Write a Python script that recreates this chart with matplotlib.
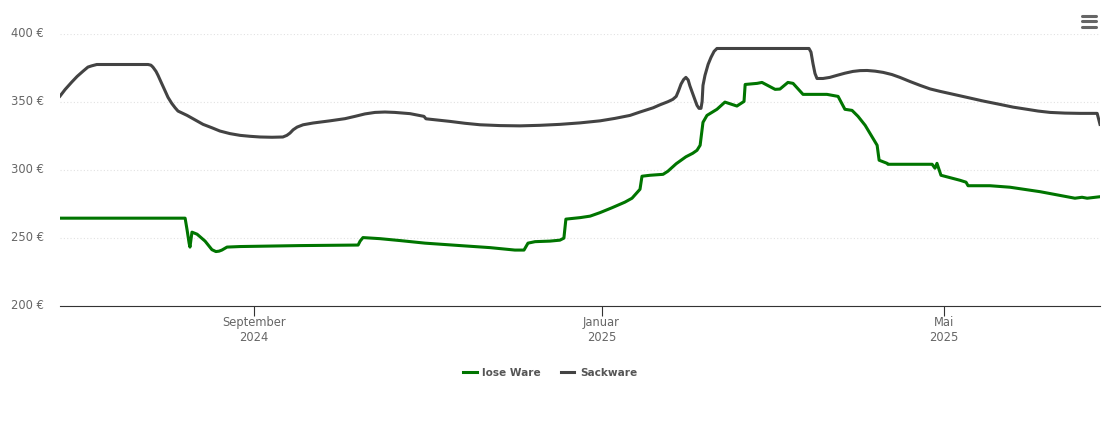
import datetime
import numpy as np
import matplotlib
matplotlib.use("Agg")
import matplotlib.pyplot as plt
import matplotlib.dates as mdates
from matplotlib.lines import Line2D
from matplotlib.transforms import ScaledTranslation

# days since the left edge of the chart, and price in euro
start = datetime.date(2024, 6, 25)

lose_days = [0, 43.9, 44.6, 45.3, 45.6, 46.3, 48.1, 50.9, 53.3, 54.7, 55.8, 56.8, 58.6, 63.2, 84.2, 104.6, 105.3, 106.3,
             112.3, 119.3, 128.1, 140.4, 150.9, 159.6, 162.8, 164.2, 166.7, 171.9, 175.4, 176.8, 177.5, 182.5,
             186, 189.5, 193.7, 198.2, 200.7, 203.5, 204.2, 207, 211.6, 213.3, 216.2, 219.6, 222, 223.5, 224.6, 225.6,
             227, 230.5, 233.3, 237.5, 240, 240.4, 244.6, 246.3, 250.9, 252.6, 255.4, 257.2, 260.7, 269.1, 273,
             275.4, 277.9, 280, 282.5, 286.7, 287.4, 290.2, 290.5, 306, 307, 307.7, 309.1, 315.8, 317.9, 318.6,
             326.3, 333.3, 343.9, 356.1, 358.6, 360.4, 364.9]
lose_ware = [264.7, 264.7, 255.9, 246.3, 243.4, 254.4, 252.9, 247.8, 241.5, 240.1, 240.4, 241.2, 243.4, 243.8, 244.5, 244.9,
             247.8, 250.4, 249.6, 248.2, 246.3, 244.5, 243, 241.2, 241.2, 246.3, 247.4, 247.8, 248.5, 250, 264,
             265.1, 266.2, 268.8, 272.4, 276.5, 279.4, 286, 295.6, 296.3, 297, 299.3, 304.8, 309.9, 312.5, 314.7, 318.4,
             335.3, 340.4, 344.9, 350.2, 347.3, 350.7, 363.2, 364, 364.7, 359.6, 359.8, 364.7, 364, 355.9, 355.9,
             354.4, 344.9, 344.1, 339.7, 333.1, 318.4, 307.4, 305.1, 304.4, 304.4, 301.5, 305.1, 296.3, 292.6,
             291.2, 288.6, 288.6, 287.5, 284.2, 279.4, 280.1, 279.4, 280.5]

sack_days = [0, 1.8, 4.1, 6, 8.1, 9.8, 11.1, 12.9, 30.9, 31.9, 32.6, 33.7, 34.4, 35.6, 36.8, 37.9, 39.2, 40.4, 41.4,
             44.6, 47.4, 50.2, 53.3, 56.1, 59.6, 63.2, 66.7, 70.2, 74.4, 78.2, 79.6, 80.7, 81.8, 83.2, 85.3, 88.8,
             94.7, 100, 103.5, 107, 110.5, 114, 117.5, 122.8, 127.7, 128.4, 136.8, 142.1, 147.4, 154.4, 161.4, 168.4,
             175.4, 182.5, 189.5, 194.7, 200, 203.5, 208.1, 210.5, 213.3, 215, 216.2, 217, 217.9, 218.8, 219.6, 220.4,
             221, 221.9, 222.8, 223.5, 224.2, 224.9, 225.3, 225.6, 226.3, 227.4, 228.4, 229.5, 230.5, 262.8, 263.5,
             264.2, 264.9, 265.6, 267.7, 270.1, 272.6, 275.4, 278.2, 280.7, 283.2, 286, 288.8, 291.9, 294.7, 298.2,
             301.8, 305.3, 308.8, 313.3, 318.2, 323.9, 329.8, 334.4, 339.3, 343.2, 347.4, 352.6, 357.9, 363.9, 364.9]
sackware = [354.6, 359.5, 364.9, 369.1, 373, 376, 376.9, 377.9, 377.9, 377.4, 376, 372.8, 369.9, 364.3, 358.8, 353.7,
            349.3, 346, 343.6, 340.4, 337.1, 333.8, 331.3, 328.9, 327, 325.7, 325, 324.5, 324.3, 324.5, 325.7, 327.4,
            329.8, 331.8, 333.5, 334.8, 336.4, 338, 339.7, 341.5, 342.6, 342.9, 342.6, 341.7, 339.7, 337.9, 336, 334.6,
            333.5, 332.9, 332.7, 333.1, 333.8, 334.9, 336.4, 338.2, 340.4, 342.9, 346, 348.2, 350.5, 352.2, 354.4,
            358.4, 363.5, 366.8, 368.4, 366.5, 362.2, 357, 351.8, 347.8, 345.6, 345.6, 350.7, 362.5, 369.9, 378,
            383.1, 387.6, 389.7, 389.7, 387, 378.5, 371.3, 367.6, 367.6, 368.4, 369.9, 371.5, 372.8, 373.4, 373.5,
            373, 372.1, 370.5, 368.4, 365.4, 362.5, 359.9, 358.1, 356, 353.7, 351, 348.5, 346.5, 344.9, 343.6, 342.6,
            342.1, 341.9, 341.9, 333.8]

y_ticks = [200, 250, 300, 350, 400]
x_ticks = [datetime.date(2024, 9, 1), datetime.date(2025, 1, 1), datetime.date(2025, 5, 1)]
x_labels = ["September\n2024", "Januar\n2025", "Mai\n2025"]

W, H = 1110, 423
fig = plt.figure(figsize=(W / 100, H / 100), dpi=100)
ax = fig.add_axes([60 / W, (H - 306) / H, 1040 / W, 271.5 / H])

t0 = mdates.date2num(start)
ax.plot(t0 + np.array(lose_days), lose_ware, color="#007500", lw=2.2, label="lose Ware", solid_joinstyle="round")
ax.plot(t0 + np.array(sack_days), sackware, color="#434343", lw=2.2, label="Sackware", solid_joinstyle="round")

ax.set_xlim(t0, t0 + 364.9)
ax.set_ylim(200, 400)
ax.set_yticks(y_ticks)
ax.set_yticklabels(["%d €" % v for v in y_ticks])
ax.set_xticks([mdates.date2num(d) for d in x_ticks])
ax.set_xticklabels(x_labels, linespacing=1.22)
ax.tick_params(axis="y", length=0, pad=11.5, labelsize=8.3, labelcolor="#666666")
ax.tick_params(axis="x", length=7.2, width=0.8, color="#333333", pad=0.2, labelsize=8.3, labelcolor="#666666")
up = ScaledTranslation(0, 1.5 / 72, fig.dpi_scale_trans)
for lab in ax.get_yticklabels():
    lab.set_transform(lab.get_transform() + up)
ax.grid(axis="y", color="#e2e2e2", lw=0.8, ls=(0, (1, 2)))
ax.set_axisbelow(True)
for s in ["top", "left", "right"]:
    ax.spines[s].set_visible(False)
ax.spines["bottom"].set_color("#333333")
ax.spines["bottom"].set_linewidth(0.8)

leg = fig.legend(loc="center", bbox_to_anchor=(550.5 / W, (H - 373) / H), ncol=2, frameon=False,
                 handlelength=1.25, handletextpad=0.55, columnspacing=1.9,
                 prop={"weight": "bold", "size": 7.6})
for txt in leg.get_texts():
    txt.set_color("#555555")

# menu button top right
for y in [15.7, 21.3, 26.7]:
    fig.add_artist(Line2D([1082 / W, 1096 / W], [(H - y) / H] * 2, color="#666666", lw=2.2, solid_capstyle="round"))

fig.savefig("out.png", dpi=100)
